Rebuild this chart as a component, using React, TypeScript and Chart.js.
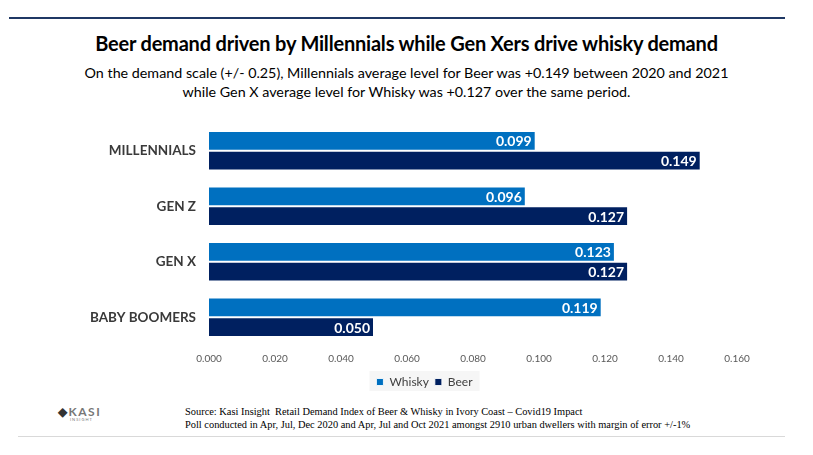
import React, { useEffect, useRef } from "react";
import { Chart, registerables } from "chart.js";

Chart.register(...registerables);

const categories = ["MILLENNIALS", "GEN Z", "GEN X", "BABY BOOMERS"];
const whiskyValues = [0.099, 0.096, 0.123, 0.119];
const beerValues = [0.149, 0.127, 0.127, 0.05];
const seriesNames = ["Whisky", "Beer"];
const xTicks = [0, 0.02, 0.04, 0.06, 0.08, 0.1, 0.12, 0.14, 0.16];

const FONT = "Lato, 'Open Sans', sans-serif";

const valueLabels = {
  id: "valueLabels",
  afterDatasetsDraw(chart: any) {
    const ctx = chart.ctx;
    ctx.save();
    ctx.font = `bold 14px ${FONT}`;
    ctx.fillStyle = "#ffffff";
    ctx.textAlign = "right";
    ctx.textBaseline = "middle";
    chart.data.datasets.forEach((ds: any, i: number) => {
      const meta = chart.getDatasetMeta(i);
      meta.data.forEach((bar: any, j: number) => {
        ctx.fillText(Number(ds.data[j]).toFixed(3), bar.x - 4, bar.y + 1);
      });
    });
    ctx.restore();
  },
};

const legendShift = {
  id: "legendShift",
  afterLayout(chart: any) {
    const lg = chart.legend;
    if (!lg) return;
    lg.left += 56;
    lg.right += 56;
  },
};

const legendBg = {
  id: "legendBg",
  beforeDraw(chart: any) {
    const lg = chart.legend;
    if (!lg) return;
    const cx = (lg.left + lg.right) / 2;
    const w = lg.lineWidths && lg.lineWidths[0] ? lg.lineWidths[0] : 90;
    const ctx = chart.ctx;
    ctx.save();
    ctx.fillStyle = "#f6f6f6";
    ctx.fillRect(cx - w / 2 - 4, lg.top + 1, w + 8, 20);
    ctx.restore();
  },
};

export default function App() {
  const ref = useRef<HTMLCanvasElement>(null);

  useEffect(() => {
    document.body.style.margin = "0";
    const chart = new Chart(ref.current as HTMLCanvasElement, {
      type: "bar",
      data: {
        labels: categories,
        datasets: [
          {
            label: seriesNames[0],
            data: whiskyValues,
            backgroundColor: "#0070C0",
            borderColor: "rgba(255,255,255,0.85)",
            borderWidth: 1,
            categoryPercentage: 0.71,
            barPercentage: 1.0,
          },
          {
            label: seriesNames[1],
            data: beerValues,
            backgroundColor: "#002060",
            borderColor: "rgba(255,255,255,0.85)",
            borderWidth: 1,
            categoryPercentage: 0.71,
            barPercentage: 1.0,
          },
        ],
      },
      options: {
        indexAxis: "y",
        animation: false,
        responsive: false,
        maintainAspectRatio: false,
        layout: { padding: { top: 14, right: 76, left: 0, bottom: 0 } },
        scales: {
          x: {
            min: 0,
            max: 0.16,
            afterBuildTicks: (s: any) => {
              s.ticks = xTicks.map((v) => ({ value: v }));
            },
            afterFit: (s: any) => {
              s.height = 25;
            },
            grid: { display: false },
            border: { display: false },
            ticks: {
              color: "#595959",
              font: { family: FONT, size: 10 },
              padding: 0,
              maxRotation: 0,
              callback: (v: any) => Number(v).toFixed(3),
            },
          },
          y: {
            afterFit: (s: any) => {
              s.width = 209;
            },
            grid: { display: false },
            border: { display: false },
            ticks: {
              color: "#3a3a3a",
              font: { family: FONT, size: 13.5, weight: "bold" },
              padding: 5,
            },
          },
        },
        plugins: {
          legend: {
            position: "bottom",
            labels: {
              boxWidth: 7,
              boxHeight: 7,
              color: "#404040",
              font: { family: FONT, size: 12 },
              padding: 6,
            },
          },
          tooltip: { enabled: false },
          title: { display: false },
        },
      },
      plugins: [valueLabels, legendShift, legendBg],
    });
    return () => chart.destroy();
  }, []);

  return (
    <div style={{ position: "relative", width: 813, height: 455, background: "#fff", fontFamily: FONT }}>
      <div style={{ position: "absolute", left: 9, top: 17, width: 776, height: 2, background: "#1F3864" }} />
      <div
        style={{
          position: "absolute",
          left: 0,
          width: 813,
          top: 31,
          textAlign: "center",
          fontWeight: "bold",
          fontSize: 20,
          color: "#000",
          letterSpacing: -0.2,
        }}
      >
        Beer demand driven by Millennials while Gen Xers drive whisky demand
      </div>
      <div
        style={{
          position: "absolute",
          left: 0,
          width: 813,
          top: 63,
          textAlign: "center",
          fontSize: 14.3,
          lineHeight: "19px",
          color: "#000",
        }}
      >
        On the demand scale (+/- 0.25), Millennials average level for Beer was +0.149 between 2020 and 2021
        <br />
        while Gen X average level for Whisky was +0.127 over the same period.
      </div>
      <canvas ref={ref} width={813} height={289} style={{ position: "absolute", left: 0, top: 109, width: 813, height: 289 }} />
      <div style={{ position: "absolute", left: 58, top: 406, width: 45, color: "#777", lineHeight: 1 }}>
        <div style={{ fontSize: 12, fontWeight: "bold", letterSpacing: 1.5 }}>
          <span style={{ color: "#333" }}>◆</span>KASI
        </div>
        <div style={{ fontSize: 4, letterSpacing: 1, marginLeft: 12 }}>INSIGHT</div>
      </div>
      <div
        style={{
          position: "absolute",
          left: 185,
          top: 405,
          fontFamily: "'Liberation Serif', 'Times New Roman', serif",
          fontSize: 10.4,
          lineHeight: "13px",
          color: "#000",
          whiteSpace: "nowrap",
        }}
      >
        Source: Kasi Insight&nbsp; Retail Demand Index of Beer &amp; Whisky in Ivory Coast – Covid19 Impact
        <br />
        Poll conducted in Apr, Jul, Dec 2020 and Apr, Jul and Oct 2021 amongst 2910 urban dwellers with margin of error +/-1%
      </div>
      <div style={{ position: "absolute", left: 18, top: 436, width: 767, height: 1, background: "#d9d9d9" }} />
    </div>
  );
}
